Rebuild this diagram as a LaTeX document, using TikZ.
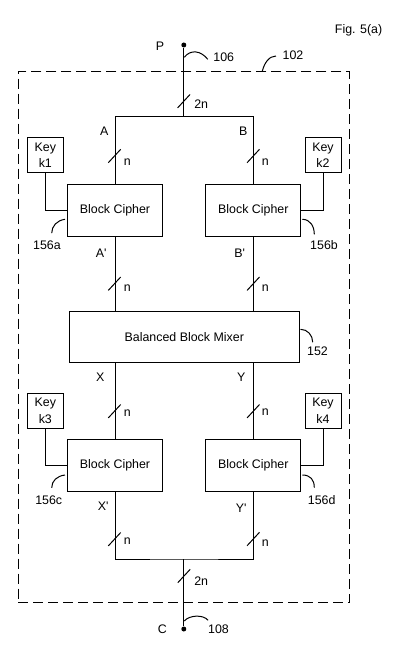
\documentclass[tikz,border=0pt]{standalone}
\usepackage{fontspec}
\setmainfont{Liberation Sans}

\tikzset{every picture/.style={line width=0.75pt}}
\tikzset{
  sysframe/.style={draw, dash pattern={on 7.5pt off 3.75pt}, minimum width=248.25pt, minimum height=398.25pt, inner sep=0pt},
  cipher/.style={draw, minimum width=71.25pt, minimum height=39pt, inner sep=0.75pt},
  mixer/.style={draw, minimum width=172.5pt, minimum height=38.25pt, inner sep=0.75pt},
  keybox/.style={draw, minimum width=27pt, minimum height=26.25pt, inner sep=0.75pt, align=center},
  terminal/.style={circle, fill, inner sep=0pt, minimum size=3.75pt},
  lbl/.style={inner sep=0.75pt},
  bus/.pic={\draw (-6.2,-6.7) -- (6.2,6.7);}
}

\begin{document}
\begin{tikzpicture}[x=0.75pt,y=0.75pt,yscale=-1,xscale=1,font=\fontsize{9.3}{12.5}\selectfont]
\useasboundingbox (0,0) rectangle (408,660);

%Shape: Rectangle (dashed system frame)
\node [sysframe] (frame) at (183.9,337.2) {};

%Shape: Rectangle
\node [cipher] (bc1) at (115,210.3) {Block Cipher};
\node [cipher] (bc2) at (253.3,210.3) {Block Cipher};
\node [mixer] (bbm) at (184.3,337.2) {Balanced Block Mixer};
\node [cipher] (bc3) at (115,465.2) {Block Cipher};
\node [cipher] (bc4) at (253.3,465.2) {Block Cipher};

%Shape: Rectangle (keys)
\node [keybox] (k1) at (45.3,155.3) {Key\\k1};
\node [keybox] (k2) at (323,155.3) {Key\\k2};
\node [keybox] (k3) at (45.3,410.8) {Key\\k3};
\node [keybox] (k4) at (323,410.8) {Key\\k4};

%Shape: Circle
\node [terminal] (P) at (183.8,45) {};
\node [terminal] (C) at (183.8,629) {};
\coordinate (topj) at (183.8,116.7);
\coordinate (botj) at (183.8,559);

%Straight Lines
\draw (P) -- (topj);
\draw (bc1.north) |- (topj) -| (bc2.north);
\draw (bc1.south) -- (bc1.south |- bbm.north);
\draw (bc2.south) -- (bc2.south |- bbm.north);
\draw (bc3.north |- bbm.south) -- (bc3.north);
\draw (bc4.north |- bbm.south) -- (bc4.north);
\draw (bc3.south) |- (botj) -| (bc4.south);
\draw (botj) -- (C);
%Straight Lines (keys)
\draw (k1.south) |- (bc1.west);
\draw (k2.south) |- (bc2.east);
\draw (k3.south) |- (bc3.west);
\draw (k4.south) |- (bc4.east);

%Bus marks
\pic at (183.8,101.2) {bus};
\pic at (114.5,156) {bus};
\pic at (253.3,156) {bus};
\pic at (114.5,283.7) {bus};
\pic at (253.3,283.7) {bus};
\pic at (114.5,411.2) {bus};
\pic at (253.3,411.2) {bus};
\pic at (114.5,539.2) {bus};
\pic at (253.3,539) {bus};
\pic at (184,576) {bus};

% Text Node
\node [lbl] (fig) at (358.6,30) {Fig. 5(a)};
\node [lbl] (lP) at (160,46) {P};
\node [lbl] (lC) at (162.3,629.3) {C};
% Text Node
\node [lbl] (l106) at (223.8,57.3) {106};
\node [lbl] (l102) at (293,55) {102};
\node [lbl] (l152) at (317.5,351.7) {152};
\node [lbl] (l156a) at (47,245) {156a};
\node [lbl] (l156b) at (324,245) {156b};
\node [lbl] (l156c) at (48.7,500) {156c};
\node [lbl] (l156d) at (321.7,500) {156d};
\node [lbl] (l108) at (218.5,629.3) {108};
% Text Node
\node [lbl] (lA) at (104.3,131) {A};
\node [lbl] (lB) at (243.3,131) {B};
\node [lbl] (lA2) at (101.2,253.3) {A\textquotesingle};
\node [lbl] (lB2) at (239.7,253.3) {B\textquotesingle};
\node [lbl] (lX) at (100.3,377.3) {X};
\node [lbl] (lY) at (241.2,377.3) {Y};
\node [lbl] (lX2) at (103.2,506) {X\textquotesingle};
\node [lbl] (lY2) at (241.2,508.3) {Y\textquotesingle};
% Text Node
\node [lbl] at (201.2,104) {2n};
\node [lbl] at (127.3,161.7) {n};
\node [lbl] at (265.3,161.7) {n};
\node [lbl] at (127.3,287.7) {n};
\node [lbl] at (265.3,287.7) {n};
\node [lbl] at (127.3,413.3) {n};
\node [lbl] at (265.3,412.3) {n};
\node [lbl] at (127.3,541) {n};
\node [lbl] at (265.3,543.3) {n};
\node [lbl] at (201.2,581) {2n};

%Curve Lines
\draw (P) ++(0.5,12.3) .. controls +(6,-8) and +(-7,-9) .. ([shift={(-4.2,2)}]l106.west);
\draw ([shift={(78.4,0)}]frame.north) .. controls +(2,-8) and +(-7,0) .. ([shift={(-5.2,1)}]l102.west);
\draw ([shift={(0.7,-7.9)}]bbm.east) .. controls +(7,0) and +(0,-7) .. ([shift={(-4.8,-3.6)}]l152.north);
\draw ([shift={(-2,9)}]bc1.west) .. controls +(-8,1) and +(0,-7) .. ([shift={(4.7,-6)}]l156a.north);
\draw ([shift={(1,9)}]bc2.east) .. controls +(8,0) and +(0,-8) .. ([shift={(-9.7,-4.6)}]l156b.north);
\draw ([shift={(-2,9.8)}]bc3.west) .. controls +(-8,1) and +(0,-7) .. ([shift={(3,-6.3)}]l156c.north);
\draw ([shift={(1,9.8)}]bc4.east) .. controls +(8,0) and +(0,-8) .. ([shift={(-7.4,-6.3)}]l156d.north);
\draw (C) ++(0.5,-8) .. controls +(5,-6) and +(-5,-6) .. ([shift={(1.5,-9)}]l108.west);

\end{tikzpicture}
\end{document}
